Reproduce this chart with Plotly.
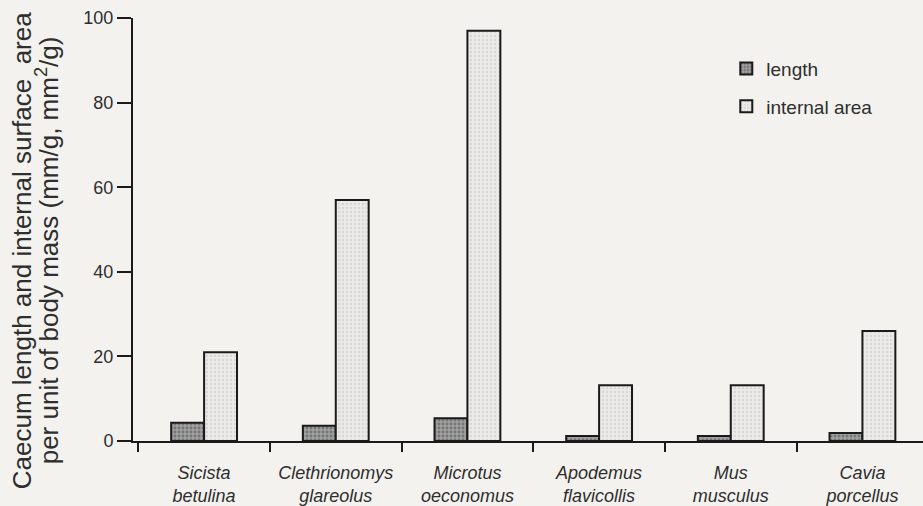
import plotly.graph_objects as go

species = ["Sicista<br>betulina", "Clethrionomys<br>glareolus", "Microtus<br>oeconomus",
           "Apodemus<br>flavicollis", "Mus<br>musculus", "Cavia<br>porcellus"]
length_vals = [4.3, 3.6, 5.4, 1.2, 1.2, 1.9]
area_vals = [21, 57, 97, 13.2, 13.2, 26]
y_ticks = [0, 20, 40, 60, 80, 100]
title_line1 = "Caecum length and internal surface  area"
title_line2 = "per unit of body mass (mm/g, mm<sup>2</sup>/g)"

xpos = list(range(len(species)))
ticktext = [f"<i>{s}</i>" for s in species]

ink = "#1a1a1a"
txt = "#2e2e2e"
bg = "#f3f2ee"

fig = go.Figure()
fig.add_trace(go.Bar(
    x=xpos, y=length_vals, name="length", legendgroup="a",
    marker=dict(color="#8f8f8f", line=dict(color=ink, width=2),
                pattern=dict(shape=".", fgcolor="#4a4a4a", bgcolor="#a0a0a0", size=4, solidity=0.4)),
))
fig.add_trace(go.Bar(
    x=xpos, y=area_vals, name="internal area", legendgroup="b",
    marker=dict(color="#e4e3e0", line=dict(color=ink, width=2),
                pattern=dict(shape=".", fgcolor="#c4c4c4", bgcolor="#ebeae7", size=4, solidity=0.3)),
))

fig.update_layout(
    width=923, height=506,
    paper_bgcolor=bg, plot_bgcolor=bg,
    margin=dict(l=133, r=0, t=18, b=65),
    barmode="group", bargap=0.5, bargroupgap=0,
    font=dict(family="Liberation Sans, Arial, sans-serif", color=txt),
    showlegend=True,
    legend=dict(x=0.751, y=0.925, xanchor="left", yanchor="top", traceorder="grouped",
                bgcolor="rgba(0,0,0,0)", font=dict(size=19, color=txt),
                tracegroupgap=10),
    xaxis=dict(
        range=[-0.54, 5.46], tickvals=xpos, ticktext=ticktext,
        ticks="", showgrid=False, zeroline=False,
        showline=True, linecolor=ink, linewidth=2,
        tickfont=dict(size=18, color=txt), ticklabelstandoff=14,
        minor=dict(tick0=0.5, dtick=1, ticks="outside", ticklen=9, tickwidth=2, tickcolor=ink),
    ),
    yaxis=dict(
        range=[0, 100], tickvals=y_ticks, ticks="outside", ticklen=14, tickwidth=2,
        tickcolor=ink, showgrid=False, zeroline=False,
        showline=True, linecolor=ink, linewidth=2,
        tickfont=dict(size=18, color=txt),
    ),
)

for xp, line in [(-0.141, title_line1), (-0.108, title_line2)]:
    fig.add_annotation(
        xref="paper", yref="paper", x=xp, y=0.45, xanchor="center", yanchor="middle",
        textangle=-90, showarrow=False, text=line,
        font=dict(size=26, color=txt),
    )

fig.write_html("out.html", config={"displayModeBar": False},
               post_script="document.body.style.margin='0';document.body.style.background='%s';" % bg)
